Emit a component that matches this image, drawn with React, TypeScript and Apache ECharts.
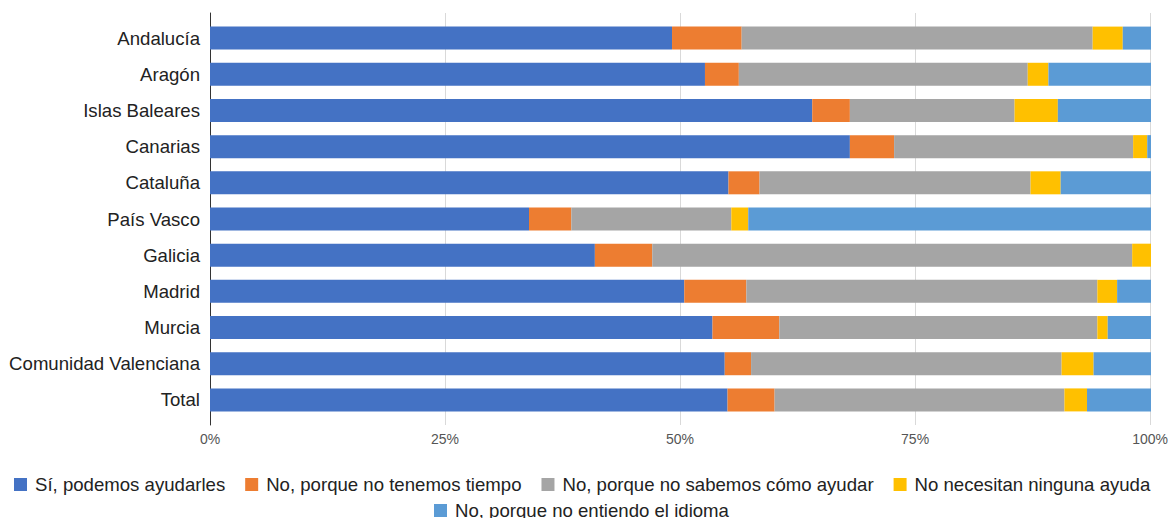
import React, { useEffect, useRef } from "react";
import * as echarts from "echarts";

const categories = [
  "Andalucía",
  "Aragón",
  "Islas Baleares",
  "Canarias",
  "Cataluña",
  "País Vasco",
  "Galicia",
  "Madrid",
  "Murcia",
  "Comunidad Valenciana",
  "Total",
];

const seriesNames = [
  "Sí, podemos ayudarles",
  "No, porque no tenemos tiempo",
  "No, porque no sabemos cómo ayudar",
  "No necesitan ninguna ayuda",
  "No, porque no entiendo el idioma",
];

const siAyudar = [49.1, 52.6, 64.0, 68.0, 55.1, 33.9, 40.9, 50.4, 53.4, 54.7, 55.0];
const noTiempo = [7.4, 3.6, 4.0, 4.7, 3.3, 4.5, 6.1, 6.6, 7.1, 2.8, 5.0];
const noSabemos = [37.3, 30.7, 17.5, 25.4, 28.8, 17.0, 51.0, 37.3, 33.8, 33.0, 30.8];
const noNecesitan = [3.2, 2.2, 4.6, 1.5, 3.2, 1.8, 2.0, 2.1, 1.1, 3.4, 2.4];
const noIdioma = [3.0, 10.9, 9.9, 0.4, 9.6, 42.8, 0.0, 3.6, 4.6, 6.1, 6.8];

const tickValues = [0, 25, 50, 75, 100];

const colors = ["#4472C4", "#ED7D31", "#A5A5A5", "#FFC000", "#5B9BD5"];

export default function App() {
  const ref = useRef<HTMLDivElement>(null);

  useEffect(() => {
    if (!ref.current) return;
    const chart = echarts.init(ref.current, null, { renderer: "svg" });
    const values = [siAyudar, noTiempo, noSabemos, noNecesitan, noIdioma];
    const font = "Liberation Sans, Arial, sans-serif";

    const legendCommon = {
      itemWidth: 13,
      itemHeight: 13,
      itemGap: 20,
      icon: "rect",
      textStyle: { color: "#222222", fontSize: 18.6, fontFamily: font, padding: [0, 0, 0, 3] },
    };

    const option: any = {
      animation: false,
      color: colors,
      textStyle: { fontFamily: font },
      grid: [
        { left: 210, right: 20, top: 20, height: 398, containLabel: false },
        { left: 210, right: 20, top: 13, height: 412, containLabel: false },
      ],
      xAxis: [
        {
          type: "value",
          gridIndex: 0,
          min: 0,
          max: 100,
          interval: 25,
          axisLine: { show: false },
          axisTick: { show: false },
          axisLabel: { show: false },
          splitLine: { show: false },
        },
        {
          type: "value",
          gridIndex: 1,
          min: 0,
          max: 100,
          interval: 25,
          axisLine: { show: false },
          axisTick: { show: false },
          axisLabel: {
            show: true,
            margin: 7,
            color: "#555555",
            fontSize: 14,
            fontFamily: font,
            formatter: (v: number) => (tickValues.includes(v) ? v + "%" : ""),
          },
          splitLine: { show: true, lineStyle: { color: "#D9D9D9", width: 1 } },
        },
      ],
      yAxis: [
        {
          type: "category",
          gridIndex: 0,
          data: categories,
          inverse: true,
          axisLine: { show: false },
          axisTick: { show: false },
          axisLabel: {
            color: "#222222",
            fontSize: 18.6,
            margin: 10,
            fontFamily: font,
          },
        },
        {
          type: "value",
          gridIndex: 1,
          min: 0,
          max: 1,
          axisLine: { show: true, lineStyle: { color: "#333333", width: 1 } },
          axisTick: { show: false },
          axisLabel: { show: false },
          splitLine: { show: false },
        },
      ],
      legend: [
        { ...legendCommon, data: seriesNames.slice(0, 4), left: 9, top: 470 },
        { ...legendCommon, data: seriesNames.slice(4), left: 429, top: 496 },
      ],
      series: seriesNames.map((name, i) => ({
        name,
        type: "bar",
        stack: "total",
        xAxisIndex: 0,
        yAxisIndex: 0,
        barWidth: 23,
        data: values[i],
        itemStyle: { color: colors[i] },
        z: 3,
      })),
    };

    chart.setOption(option);
    return () => chart.dispose();
  }, []);

  return (
    <div
      ref={ref}
      style={{ position: "fixed", left: 0, top: 0, width: 1171, height: 518, background: "#ffffff" }}
    />
  );
}
